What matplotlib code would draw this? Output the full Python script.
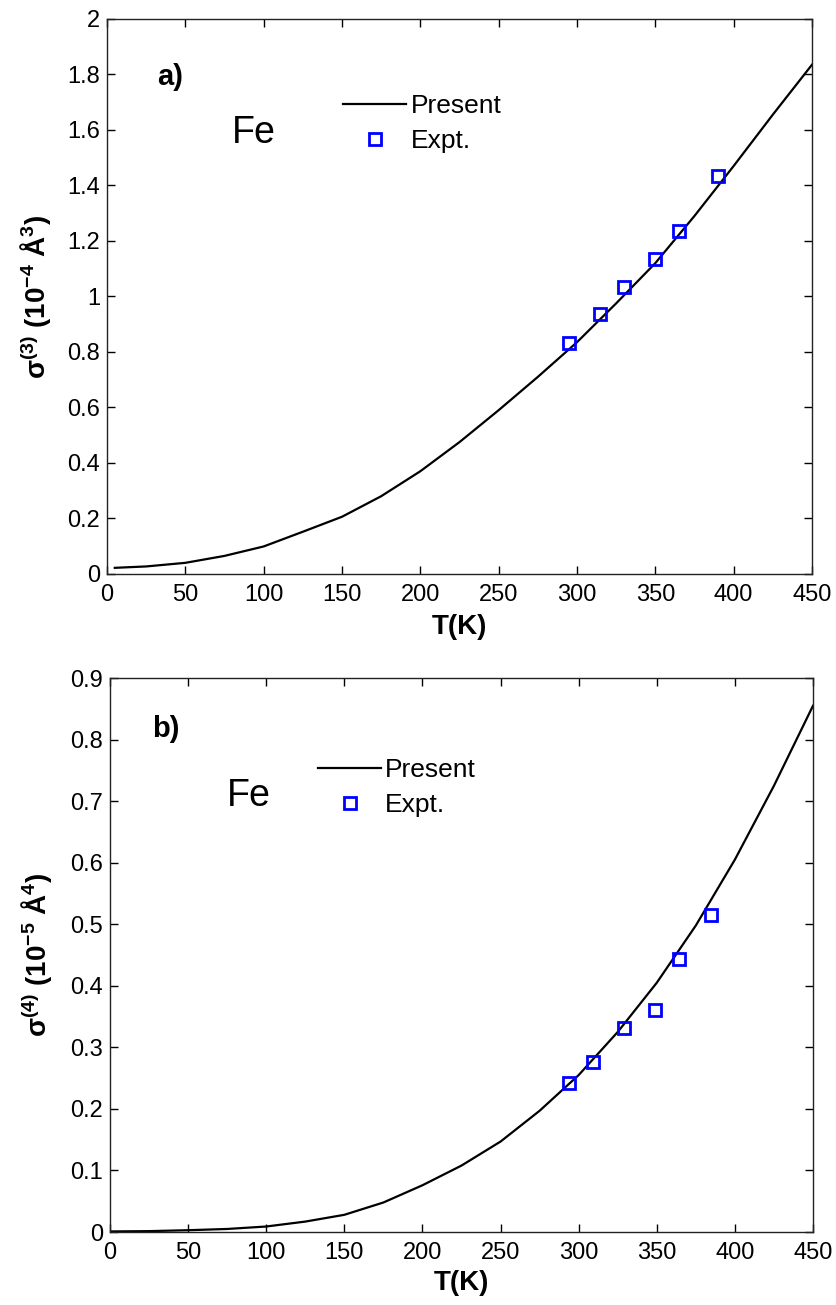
import numpy as np
import matplotlib
matplotlib.use("Agg")
import matplotlib.pyplot as plt
from matplotlib.ticker import FuncFormatter

plt.rcParams["font.family"] = ["Liberation Sans", "DejaVu Sans"]
plt.rcParams["mathtext.fontset"] = "custom"
plt.rcParams["mathtext.rm"] = "Liberation Sans:bold"
plt.rcParams["mathtext.it"] = "Liberation Sans:bold:italic"
plt.rcParams["mathtext.bf"] = "Liberation Sans:bold"

# ---- panel a) : third cumulant, sigma(3) in 1e-4 A^3
t_curve_a = [5, 25, 50, 75, 100, 125, 150, 175, 200, 225, 250, 275,
             300, 325, 350, 375, 400, 425, 450]
s3_curve = [0.022, 0.027, 0.040, 0.065, 0.099, 0.152, 0.206, 0.280, 0.370,
            0.475, 0.590, 0.710, 0.835, 0.975, 1.120, 1.290, 1.470, 1.655,
            1.835]
t_expt_a = [295, 315, 330, 350, 365, 390]
s3_expt = [0.831, 0.937, 1.035, 1.136, 1.236, 1.434]

# ---- panel b) : fourth cumulant, sigma(4) in 1e-5 A^4
t_curve_b = [0, 25, 50, 75, 100, 125, 150, 175, 200, 225, 250, 275,
             300, 325, 350, 375, 400, 425, 450]
s4_curve = [0.001, 0.0015, 0.003, 0.005, 0.009, 0.017, 0.028, 0.048, 0.076,
            0.108, 0.147, 0.197, 0.255, 0.325, 0.405, 0.498, 0.605, 0.725,
            0.855]
t_expt_b = [294, 309, 329, 349, 364, 385]
s4_expt = [0.242, 0.276, 0.332, 0.361, 0.443, 0.515]

x_ticks = np.arange(0, 451, 50)
y_ticks_a = np.arange(0, 2.01, 0.2)
y_ticks_b = np.arange(0, 0.91, 0.1)

BLUE = "#0000FF"
TICK_FS = 17


def g_fmt(v, pos):
    return "%g" % round(v, 3)


def style_axes(ax, yticks, ymax):
    ax.set_xlim(0, 450)
    ax.set_ylim(0, ymax)
    ax.set_xticks(x_ticks)
    ax.set_yticks(yticks)
    ax.yaxis.set_major_formatter(FuncFormatter(g_fmt))
    ax.xaxis.set_major_formatter(FuncFormatter(g_fmt))
    ax.tick_params(direction="in", length=6, width=1, top=True, right=True,
                   labelsize=TICK_FS, colors="black")
    ax.tick_params(axis="x", pad=7)
    ax.tick_params(axis="y", pad=5)
    for sp in ax.spines.values():
        sp.set_linewidth(1.0)
        sp.set_color("#222222")


fig = plt.figure(figsize=(8.37, 13.05), dpi=100)
fig.patch.set_facecolor("white")

ax1 = fig.add_axes([0.1278, 0.5602, 0.8423, 0.4253])
ax2 = fig.add_axes([0.1314, 0.0559, 0.8399, 0.4245])

leg_kw = dict(loc="upper left", frameon=False, fontsize=19, handlelength=2.4,
              handletextpad=0.15, labelspacing=0.43, borderpad=0,
              borderaxespad=0, numpoints=1)

# panel a
ax1.plot(t_curve_a, s3_curve, color="black", lw=1.6, label="Present")
ax1.plot(t_expt_a, s3_expt, ls="none", marker="s", ms=9, mew=2,
         mec=BLUE, mfc="none", label="Expt.")
style_axes(ax1, y_ticks_a, 2)
ax1.set_xlabel("T(K)", fontsize=20, fontweight="bold")
ax1.xaxis.set_label_coords(0.5, -0.072)
ax1.set_ylabel("σ$^{(3)}$ (10$^{-4}$ Å$^{3}$)", fontsize=20, fontweight="bold")
ax1.yaxis.set_label_coords(-0.077, 0.5)
ax1.text(32, 1.79, "a)", fontsize=21, fontweight="bold", ha="left", va="center")
ax1.text(80, 1.59, "Fe", fontsize=27, ha="left", va="center")
ax1.legend(bbox_to_anchor=(0.335, 0.865), **leg_kw)

# panel b
ax2.plot(t_curve_b, s4_curve, color="black", lw=1.6, label="Present")
ax2.plot(t_expt_b, s4_expt, ls="none", marker="s", ms=9, mew=2,
         mec=BLUE, mfc="none", label="Expt.")
style_axes(ax2, y_ticks_b, 0.9)
ax2.set_xlabel("T(K)", fontsize=20, fontweight="bold")
ax2.xaxis.set_label_coords(0.5, -0.068)
ax2.set_ylabel("σ$^{(4)}$ (10$^{-5}$ Å$^{4}$)", fontsize=20, fontweight="bold")
ax2.yaxis.set_label_coords(-0.08, 0.5)
ax2.text(27, 0.817, "b)", fontsize=21, fontweight="bold", ha="left", va="center")
ax2.text(75, 0.708, "Fe", fontsize=27, ha="left", va="center")
ax2.legend(bbox_to_anchor=(0.296, 0.856), **leg_kw)

fig.savefig("out.png", dpi=100, facecolor="white")
